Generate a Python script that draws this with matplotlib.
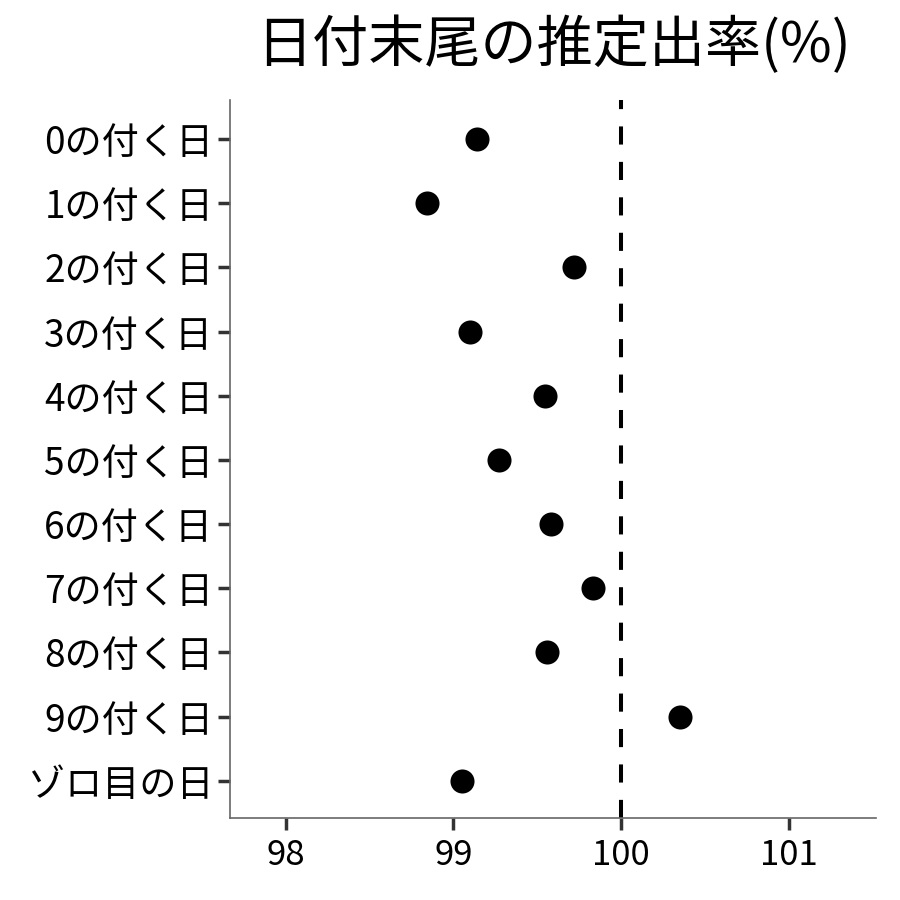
import matplotlib
matplotlib.use("Agg")
import matplotlib.pyplot as plt

plt.rcParams['font.family'] = ['Noto Sans CJK JP', 'DejaVu Sans']

categories = ["0の付く日", "1の付く日", "2の付く日", "3の付く日", "4の付く日",
              "5の付く日", "6の付く日", "7の付く日", "8の付く日", "9の付く日", "ゾロ目の日"]
rates = [99.140, 98.845, 99.720, 99.100, 99.547, 99.274, 99.583, 99.831, 99.557, 100.352, 99.052]
x_ticks = [98, 99, 100, 101]
reference = 100
title = "日付末尾の推定出率(%)"

fig = plt.figure(figsize=(9, 9), dpi=100)
ax = fig.add_axes([230/900, 1-818/900, (876-230)/900, (818-100)/900])

ypos = list(range(len(categories)))
ax.scatter(rates, ypos, s=300, color='black', zorder=3, linewidths=0)
ax.axvline(reference, color='black', lw=2.9, linestyle=(0, (4.5, 4.3)), zorder=2)

ax.set_ylim(len(categories) - 1 + 0.58, -0.61)
ax.set_xlim(97.668, 101.521)
ax.set_yticks(ypos)
ax.set_yticklabels(categories)
ax.set_xticks(x_ticks)
ax.set_xticklabels([str(t) for t in x_ticks])

for s in ['top', 'right']:
    ax.spines[s].set_visible(False)
for s in ['left', 'bottom']:
    ax.spines[s].set_color('#666666')
    ax.spines[s].set_linewidth(1.2)

ax.tick_params(axis='both', length=8.5, width=2.5, color='#333333', labelcolor='black')
ax.tick_params(axis='y', pad=3.5, labelsize=26.7)
ax.tick_params(axis='x', pad=6, labelsize=25)

fig.text((230+876)/2/900, 1-46/900, title, ha='center', va='center', fontsize=40.4)

fig.savefig("out.png", dpi=100, facecolor='white')
